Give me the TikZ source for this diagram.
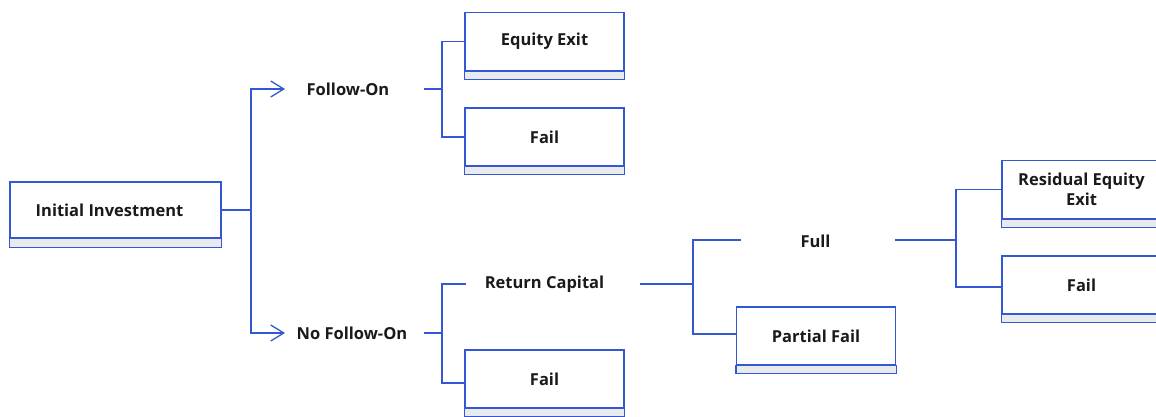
\documentclass[tikz,border=0pt]{standalone}
\usepackage{fontspec}
\setmainfont{Open Sans}
\usetikzlibrary{arrows.meta}
\definecolor{ln}{RGB}{52,88,212}
\definecolor{stripc}{RGB}{232,234,238}
\definecolor{txt}{RGB}{26,26,26}
\begin{document}
\begin{tikzpicture}[x=1pt,y=-1pt,
  conn/.style={draw=ln, line width=1.3pt},
  arr/.style={conn, -{Straight Barb[length=13pt,width=16pt]}},
  box/.style={draw=ln, line width=1.3pt, fill=white, minimum width=159pt, minimum height=58pt,
    inner sep=0pt, align=center, font=\bfseries\fontsize{16.5}{20}\selectfont, text=txt},
  lbl/.style={inner sep=0pt, font=\bfseries\fontsize{16.5}{20}\selectfont, text=txt},
  stripst/.style={draw=ln, line width=1.3pt, fill=stripc}]
\path[use as bounding box, fill=white] (0,0) rectangle (1156,416);
\clip (0,0) rectangle (1156,416);

% boxes
\node[box, minimum width=211pt, minimum height=56pt] (ii) at (115.5,210) {Initial Investment\hspace*{12pt}};
\draw[stripst] (ii.south west) rectangle ([yshift=-9pt]ii.south east);

\node[box] (ee) at (544.5,41.5) {Equity Exit};
\draw[stripst] (ee.south west) rectangle ([yshift=-8pt]ee.south east);

\node[box] (f1) at (544.5,137) {Fail};
\draw[stripst] (f1.south west) rectangle ([yshift=-8pt]f1.south east);

\node[box] (f2) at (544.5,379) {Fail};
\draw[stripst] (f2.south west) rectangle ([yshift=-8pt]f2.south east);

\node[box] (pf) at (816,336) {Partial Fail};
\draw[stripst] (pf.south west) rectangle ([yshift=-8pt]pf.south east);

\node[box] (rx) at (1081.5,189.5) {Residual Equity\\Exit};
\draw[stripst] (rx.south west) rectangle ([yshift=-8pt]rx.south east);

\node[box] (f3) at (1081.5,285) {Fail};
\draw[stripst] (f3.south west) rectangle ([yshift=-8pt]f3.south east);

% labels
\node[lbl] (fo) at (348,89) {Follow-On};
\node[lbl] (nfo) at (352,333) {No Follow-On};
\node[lbl] (rc) at (544.5,284) {Return Capital};
\node[lbl] (full) at (815.5,241) {Full};

% junction coordinates
\coordinate (j1) at (251,210);
\coordinate (foin) at (285,89);
\coordinate (nfoin) at (285,333);
\coordinate (foout) at (424,89);
\coordinate (j2) at (442,89);
\coordinate (nfoout) at (424,333);
\coordinate (j3) at (442,333);
\coordinate (rcin) at (466,284);
\coordinate (rcout) at (640,284);
\coordinate (j4) at (693,284);
\coordinate (fullin) at (741,240);
\coordinate (fullout) at (895,240);
\coordinate (j5) at (956,240);

% connectors
\draw[conn] (ii.east) -- (j1);
\draw[arr] (j1) |- (foin);
\draw[arr] (j1) |- (nfoin);

\draw[conn] (foout) -- (j2);
\draw[conn] (j2) |- (ee.west);
\draw[conn] (j2) |- (f1.west);

\draw[conn] (nfoout) -- (j3);
\draw[conn] (j3) |- (rcin);
\draw[conn] (j3) |- ([yshift=-4pt]f2.west);

\draw[conn] (rcout) -- (j4);
\draw[conn] (j4) |- (fullin);
\draw[conn] (j4) |- ([yshift=2pt]pf.west);

\draw[conn] (fullout) -- (j5);
\draw[conn] (j5) |- (rx.west);
\draw[conn] (j5) |- ([yshift=-2pt]f3.west);
\end{tikzpicture}
\end{document}
